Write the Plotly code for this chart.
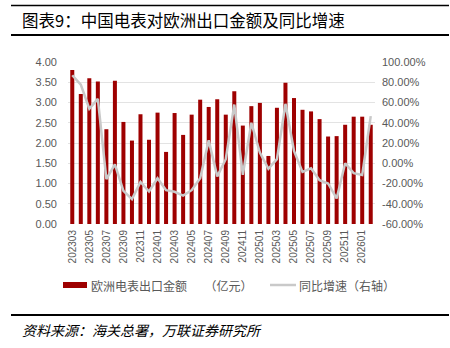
import plotly.graph_objects as go

months = ["202303","202304","202305","202306","202307","202308","202309","202310","202311","202312",
          "202401","202402","202403","202404","202405","202406","202407","202408","202409","202410","202411","202412",
          "202501","202502","202503","202504","202505","202506","202507","202508","202509","202510","202511","202512",
          "202601","202602"]
export_value = [3.80, 3.21, 3.60, 3.52, 2.34, 3.54, 2.52, 2.06, 2.71, 2.08,
                2.75, 1.78, 2.74, 2.20, 2.70, 3.07, 2.89, 3.08, 2.70, 3.28, 2.43, 2.91,
                2.99, 1.68, 2.87, 3.49, 3.11, 2.82, 2.78, 2.59, 2.16, 2.17, 2.45, 2.65,
                2.65, 2.45]
yoy_growth = [86.9, 77.7, 53.8, 63.6, -15.7, -1.0, -27.2, -35.4, -18.4, -27.9,
              -14.8, -26.6, -28.2, -32.0, -26.6, -14.8, 22.6, -13.0, 4.0, 58.0, -11.5, 40.0,
              10.5, -5.5, 4.0, 58.7, 12.1, -8.5, -5.0, -16.7, -20.0, -34.8, 0.0, -9.8,
              -11.5, 46.6]
left_ticks = [0, 0.5, 1.0, 1.5, 2.0, 2.5, 3.0, 3.5, 4.0]
right_ticks = [-60, -40, -20, 0, 20, 40, 60, 80, 100]
tick_months = months[::2]
bar_name = "欧洲电表出口金额　  （亿元）"
line_name = "同比增速（右轴）"

CJK = "Noto Sans CJK SC"
GRAY = "#595959"
BAR_COLOR = "#9E0000"
LINE_COLOR = "#C9C9C9"

fig = go.Figure()
fig.add_trace(go.Bar(x=months, y=export_value, name=bar_name,
                     marker=dict(color=BAR_COLOR, line=dict(width=0)), yaxis="y"))
fig.add_trace(go.Scatter(x=months, y=yoy_growth, name=line_name, mode="lines",
                         line=dict(color=LINE_COLOR, width=2.5), yaxis="y2"))

W, H = 450, 348
L, R, T, B = 68, 75, 62, 124
ph = H - T - B
pw = W - L - R

def py(p):
    return (H - B - p) / ph

def px(p):
    return (p - L) / pw

fig.update_layout(
    width=W, height=H,
    margin=dict(l=L, r=R, t=T, b=B),
    paper_bgcolor="white", plot_bgcolor="white",
    bargap=0.53,
    showlegend=False,
    xaxis=dict(type="category", tickvals=tick_months, ticktext=tick_months, tickangle=-90,
               tickfont=dict(family="Liberation Sans", size=10, color=GRAY),
               showgrid=False, showline=False, ticks="", ticklabelstandoff=3,
               range=[-0.5, len(months) - 0.5]),
    yaxis=dict(range=[0, 4], tickvals=left_ticks, tickformat=".2f",
               tickfont=dict(family="Liberation Sans", size=11, color=GRAY),
               showgrid=True, gridcolor="#E3E3E3", gridwidth=1, zeroline=False,
               showline=False, ticks="", ticklabelstandoff=10),
    yaxis2=dict(range=[-60, 100], tickvals=right_ticks, ticktext=[f"{v:.2f}%" for v in right_ticks],
                overlaying="y", side="right",
                tickfont=dict(family="Liberation Sans", size=11, color=GRAY),
                showgrid=False, zeroline=False, showline=False, ticks="", ticklabelstandoff=6),
    font=dict(family=CJK),
)

fig.add_annotation(text="图表9：中国电表对欧洲出口金额及同比增速", xref="paper", yref="paper",
                   x=px(20), y=py(20), xanchor="left", yanchor="middle", showarrow=False,
                   font=dict(family=CJK, size=16.5, color="black"))
fig.add_annotation(text="资料来源：海关总署，万联证券研究所", xref="paper", yref="paper",
                   x=px(20), y=py(330), xanchor="left", yanchor="middle", showarrow=False,
                   font=dict(family=CJK, size=14, color="black", style="italic"))

# legend (drawn manually)
fig.add_shape(type="rect", xref="paper", yref="paper", x0=px(63), x1=px(87),
              y0=py(288), y1=py(282), fillcolor=BAR_COLOR, line=dict(width=0))
fig.add_annotation(text=bar_name, xref="paper", yref="paper", x=px(89), y=py(285),
                   xanchor="left", yanchor="middle", showarrow=False,
                   font=dict(family=CJK, size=12, color=GRAY))
fig.add_shape(type="line", xref="paper", yref="paper", x0=px(270), x1=px(296),
              y0=py(285), y1=py(285), line=dict(color=LINE_COLOR, width=2.5))
fig.add_annotation(text=line_name, xref="paper", yref="paper", x=px(297), y=py(285),
                   xanchor="left", yanchor="middle", showarrow=False,
                   font=dict(family=CJK, size=12, color=GRAY))

for yy, w in [(5.5, 1.5), (35, 2.2), (315, 2.2)]:
    fig.add_shape(type="line", xref="paper", yref="paper", x0=px(11), x1=px(449),
                  y0=py(yy), y1=py(yy), line=dict(color="black", width=w))

fig.write_html("out.html")
